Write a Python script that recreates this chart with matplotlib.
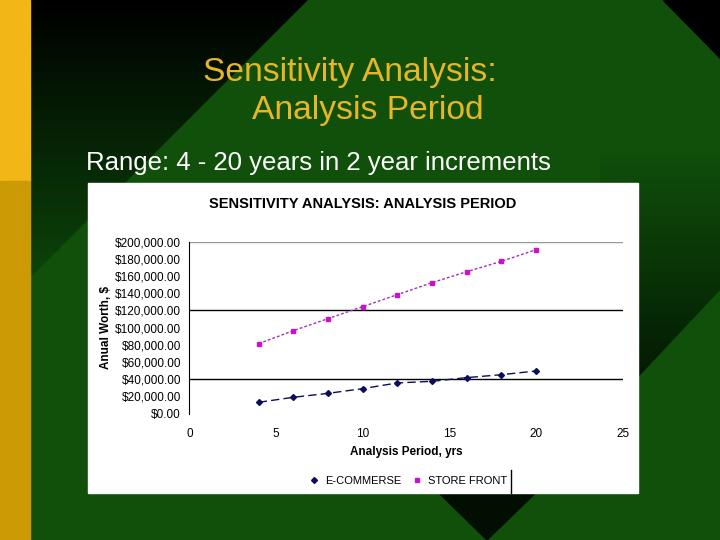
import numpy as np
import matplotlib
matplotlib.use("Agg")
import matplotlib.pyplot as plt
from matplotlib.patches import Polygon, Rectangle

plt.rcParams['font.family'] = ['Liberation Sans', 'DejaVu Sans']

# ===================== DATA =====================
years = [4, 6, 8, 10, 12, 14, 16, 18, 20]
ecommerce = [13200, 19000, 23600, 29100, 35700, 37600, 41900, 45300, 49600]
storefront = [81400, 96500, 110500, 124400, 138400, 152300, 165100, 177100, 190700]
series_names = ["E-COMMERSE", "STORE FRONT"]
y_ticks = [0, 20000, 40000, 60000, 80000, 100000, 120000, 140000, 160000, 180000, 200000]
x_ticks = [0, 5, 10, 15, 20, 25]
grid_vals = [40000, 120000]

GREEN = "#10500b"

fig = plt.figure(figsize=(7.2, 5.4), dpi=100)

# ===================== SLIDE BACKGROUND =====================
bg = fig.add_axes([0, 0, 1, 1])
bg.set_xlim(0, 720)
bg.set_ylim(540, 0)
bg.axis("off")
bg.add_patch(Rectangle((0, 0), 720, 540, color=GREEN, zorder=0))


def gradient_poly(pts, y0, y1, c0, c1):
    c0 = np.array(matplotlib.colors.to_rgb(c0))
    c1 = np.array(matplotlib.colors.to_rgb(c1))
    t = np.linspace(0, 1, 256)[:, None]
    img = (c0 * (1 - t) + c1 * t)[:, None, :]
    im = bg.imshow(img, extent=[0, 720, y1, y0], aspect="auto", zorder=1)
    poly = Polygon(pts, closed=True, facecolor="none", edgecolor="none")
    bg.add_patch(poly)
    im.set_clip_path(poly)


# top-left dark wedge
gradient_poly([(30, 0), (308, 0), (30, 278)], 0, 278, "#000000", "#0c440a")
# right dark region (fades from the green at its top)
gradient_poly([(600, 150), (720, 150), (720, 290), (600, 418)], 150, 380, GREEN, "#021a02")
# top-right black corner
bg.add_patch(Polygon([(663, 0), (720, 0), (720, 58)], color="black", zorder=2))
# bottom dark triangle
bg.add_patch(Polygon([(390, 445), (585, 445), (487, 540)], color="#010e01", zorder=2))
# yellow side bar
bg.add_patch(Rectangle((0, 0), 30, 181, color="#f2b716", zorder=3))
bg.add_patch(Rectangle((0, 181), 30, 359, color="#cc9a04", zorder=3))

bg.text(350, 73, "Sensitivity Analysis:", color="#e8b526", fontsize=24.2,
        ha="center", va="center", zorder=4)
bg.text(368, 111, "Analysis Period", color="#e8b526", fontsize=24.2,
        ha="center", va="center", zorder=4)
bg.text(86, 163, "Range: 4 - 20 years in 2 year increments", color="white",
        fontsize=18.5, ha="left", va="center", zorder=4)

# white chart box
bg.add_patch(Rectangle((88, 183), 550, 310, color="white", zorder=5))
bg.plot([511, 511], [470, 493], color="black", lw=1, zorder=6)
bg.text(363, 204, "SENSITIVITY ANALYSIS: ANALYSIS PERIOD", fontsize=10.5,
        fontweight="bold", ha="center", va="center", zorder=6)

# ===================== CHART =====================
ax = fig.add_axes([0.263, 0.234, 0.602, 0.3185])
ax.set_facecolor("none")
ax.set_zorder(10)

for g in grid_vals:
    ax.axhline(g, color="black", lw=1, zorder=1)
ax.axhline(200000, color="#999999", lw=1, zorder=1)

ax.plot(years, ecommerce, color="#0d0d5c", ls=(0, (6, 3)), lw=1,
        marker="D", ms=3, label=series_names[0], zorder=3)
ax.plot(years, storefront, color="#9933bb", ls=(0, (2, 1.5)), lw=1,
        marker="s", ms=3.5, mfc="#cc11cc", mec="#cc11cc", label=series_names[1], zorder=3)

ax.set_xlim(0, 25)
ax.set_ylim(0, 200000)
ax.set_xticks(x_ticks)
ax.set_yticks(y_ticks)
ax.set_yticklabels(["${:,.2f}".format(v) for v in y_ticks])
ax.tick_params(axis="y", labelsize=8.5, length=0, pad=6)
ax.tick_params(axis="x", labelsize=8.5, length=0, pad=10)

for s in ["top", "right", "bottom"]:
    ax.spines[s].set_visible(False)
ax.spines["left"].set_color("black")

ax.set_xlabel("Analysis Period, yrs", fontsize=8.5, fontweight="bold", labelpad=5)
ax.set_ylabel("Anual Worth, $", fontsize=8.5, fontweight="bold", labelpad=2)

ax.legend(loc="center", bbox_to_anchor=(0.567, 0.11), bbox_transform=fig.transFigure,
          ncol=2, frameon=False, fontsize=8, handlelength=0.8,
          columnspacing=1.0, handletextpad=0.6)
for line in ax.get_legend().get_lines():
    line.set_linestyle("none")

fig.savefig("out.png", dpi=100)
